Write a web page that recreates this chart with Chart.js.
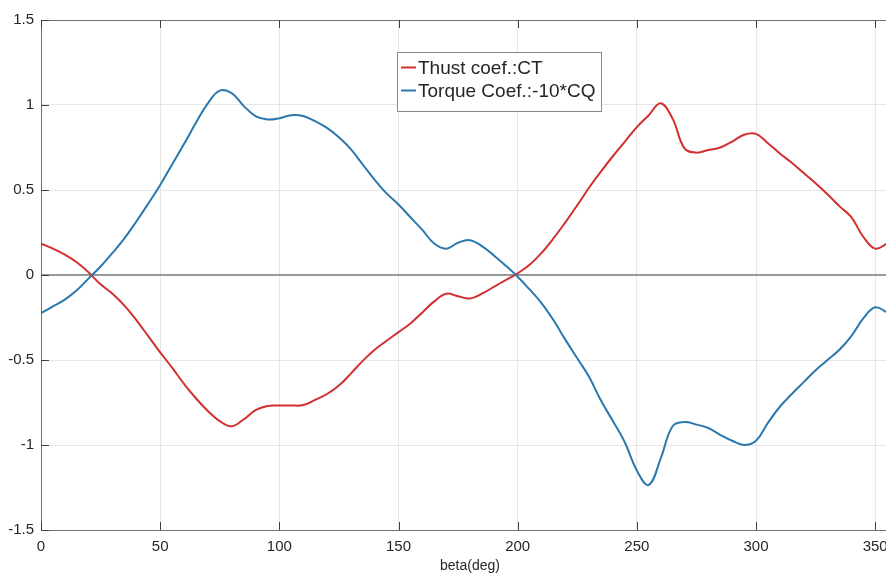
<!DOCTYPE html>
<html>
<head>
<meta charset="utf-8">
<script src="https://cdn.jsdelivr.net/npm/chart.js@4.4.1/dist/chart.umd.min.js"></script>
<style>
  html, body { margin: 0; padding: 0; background: #fff; overflow: hidden; width: 886px; height: 575px; }
  #wrap { position: relative; width: 910px; height: 575px; }
</style>
</head>
<body>
<div id="wrap"><canvas id="c" width="910" height="575"></canvas></div>
<script>
// blade azimuth angle (deg)
const beta = [
  0, 5, 10, 15, 20, 25, 30, 35, 40, 45, 50, 55, 60, 65, 70, 75, 80, 85,
  90, 95, 100, 105, 110, 115, 120, 125, 130, 135, 140, 145, 150, 155, 160, 165,
  170, 175, 180, 185, 190, 195, 200, 205, 210, 215, 220, 225, 230, 235, 240, 245,
  250, 255, 260, 265, 270, 275, 280, 285, 290, 295, 300, 305, 310, 315, 320, 325,
  330, 335, 340, 345, 350, 355
];

// thrust coefficient CT
const thrustCT = [
  0.185, 0.155, 0.12, 0.075, 0.015, -0.055, -0.11, -0.18, -0.265, -0.36, -0.455, -0.545,
  -0.64, -0.725, -0.80, -0.86, -0.89, -0.85, -0.795, -0.77, -0.768, -0.768, -0.765, -0.735,
  -0.70, -0.65, -0.58, -0.505, -0.44, -0.387, -0.336, -0.285, -0.22, -0.155, -0.11, -0.125,
  -0.138, -0.11, -0.07, -0.03, 0.01, 0.06, 0.13, 0.215, 0.31, 0.41, 0.515, 0.61,
  0.70, 0.785, 0.87, 0.94, 1.01, 0.92, 0.745, 0.72, 0.735, 0.75, 0.785, 0.825,
  0.83, 0.775, 0.715, 0.66, 0.60, 0.54, 0.475, 0.405, 0.34, 0.225, 0.155, 0.185
];

// torque coefficient, plotted as -10*CQ
const torqueCQ10 = [
  -0.224, -0.185, -0.145, -0.09, -0.02, 0.05, 0.13, 0.215, 0.315, 0.42, 0.53, 0.65,
  0.77, 0.895, 1.01, 1.085, 1.07, 0.995, 0.935, 0.915, 0.922, 0.94, 0.935, 0.905,
  0.865, 0.81, 0.74, 0.65, 0.56, 0.48, 0.415, 0.34, 0.265, 0.185, 0.155, 0.19,
  0.205, 0.17, 0.115, 0.055, -0.01, -0.085, -0.165, -0.265, -0.38, -0.49, -0.60, -0.74,
  -0.86, -0.985, -1.15, -1.235, -1.08, -0.89, -0.865, -0.88, -0.90, -0.94, -0.975, -1.0,
  -0.975, -0.87, -0.775, -0.70, -0.63, -0.56, -0.50, -0.44, -0.36, -0.255, -0.19, -0.22
];

const xTicks = [0, 50, 100, 150, 200, 250, 300, 350];
const yTicks = [-1.5, -1, -0.5, 0, 0.5, 1, 1.5];
const zeroLine = [0, 0];
const zeroLineX = [0, 360];

const RED = '#d22f2f';
const BLUE = '#2a78ad';
const AXIS = '#707070';
const TEXT = '#262626';
const FONT = "'Liberation Sans', Arial, sans-serif";

const toPoints = (xs, ys) => xs.map((x, i) => ({ x: x, y: ys[i] }));

// inward tick marks, top frame line and the boxed legend
const frameAndLegend = {
  id: 'frameAndLegend',
  afterDatasetsDraw(chart) {
    const { ctx, chartArea: a, scales } = chart;
    const xs = scales.x, ys = scales.y;
    ctx.save();
    ctx.strokeStyle = AXIS;
    ctx.lineWidth = 1;
    ctx.beginPath();
    ctx.moveTo(a.left, a.top + 0.5);
    ctx.lineTo(a.right, a.top + 0.5);
    ctx.stroke();
    ctx.strokeStyle = '#404040';
    ctx.beginPath();
    xTicks.forEach(v => {
      const px = Math.round(xs.getPixelForValue(v)) + 0.5;
      ctx.moveTo(px, a.bottom); ctx.lineTo(px, a.bottom - 8);
      ctx.moveTo(px, a.top); ctx.lineTo(px, a.top + 8);
    });
    yTicks.forEach(v => {
      const py = Math.round(ys.getPixelForValue(v)) + 0.5;
      ctx.moveTo(a.left, py); ctx.lineTo(a.left + 8, py);
    });
    ctx.stroke();

    // legend box
    const bx = 397, by = 52, bw = 204, bh = 59;
    ctx.fillStyle = '#ffffff';
    ctx.fillRect(bx, by, bw, bh);
    ctx.strokeStyle = '#8a8a8a';
    ctx.strokeRect(bx + 0.5, by + 0.5, bw, bh);
    ctx.font = '19px ' + FONT;
    ctx.textBaseline = 'middle';
    ctx.textAlign = 'left';
    const entries = chart.data.datasets.filter(d => d.label);
    entries.forEach((d, i) => {
      const cy = by + 15.5 + i * 23;
      ctx.strokeStyle = d.borderColor;
      ctx.lineWidth = 2;
      ctx.beginPath();
      ctx.moveTo(bx + 4, cy); ctx.lineTo(bx + 19, cy);
      ctx.stroke();
      ctx.fillStyle = TEXT;
      ctx.fillText(d.label, bx + 21, cy + 1);
    });
    ctx.restore();
  }
};

new Chart(document.getElementById('c'), {
  type: 'line',
  data: {
    datasets: [
      {
        label: 'Thust coef.:CT',
        data: toPoints(beta, thrustCT),
        borderColor: RED, borderWidth: 2, pointRadius: 0,
        tension: 0.4, fill: false, order: 1
      },
      {
        label: 'Torque Coef.:-10*CQ',
        data: toPoints(beta, torqueCQ10),
        borderColor: BLUE, borderWidth: 2, pointRadius: 0,
        tension: 0.4, fill: false, order: 0
      },
      {
        data: toPoints(zeroLineX, zeroLine),
        borderColor: '#999999', borderWidth: 2, pointRadius: 0,
        fill: false, order: 2
      }
    ]
  },
  options: {
    responsive: false,
    animation: false,
    devicePixelRatio: 1,
    layout: { padding: { top: 20, right: 11, left: 0, bottom: 0 } },
    plugins: { legend: { display: false }, tooltip: { enabled: false } },
    scales: {
      x: {
        type: 'linear', min: 0, max: 360,
        afterBuildTicks: s => { s.ticks = xTicks.map(v => ({ value: v })); },
        afterFit: s => { s.height = 45; },
        grid: { color: '#e6e6e6', lineWidth: 1, drawTicks: false },
        border: { display: true, color: AXIS, width: 1 },
        ticks: {
          padding: 8, color: TEXT, maxRotation: 0, autoSkip: false,
          font: { family: FONT, size: 15 },
          callback: v => String(v)
        },
        title: {
          display: true, text: 'beta(deg)', color: TEXT,
          font: { family: FONT, size: 14 }, padding: { top: 0, bottom: 0 }
        }
      },
      y: {
        type: 'linear', min: -1.5, max: 1.5,
        afterBuildTicks: s => { s.ticks = yTicks.map(v => ({ value: v })); },
        afterFit: s => { s.width = 41; },
        grid: { color: '#e6e6e6', lineWidth: 1, drawTicks: false },
        border: { display: true, color: AXIS, width: 1 },
        ticks: {
          padding: 7, color: TEXT,
          font: { family: FONT, size: 15 },
          callback: v => String(v)
        }
      }
    }
  },
  plugins: [frameAndLegend]
});
</script>
</body>
</html>
